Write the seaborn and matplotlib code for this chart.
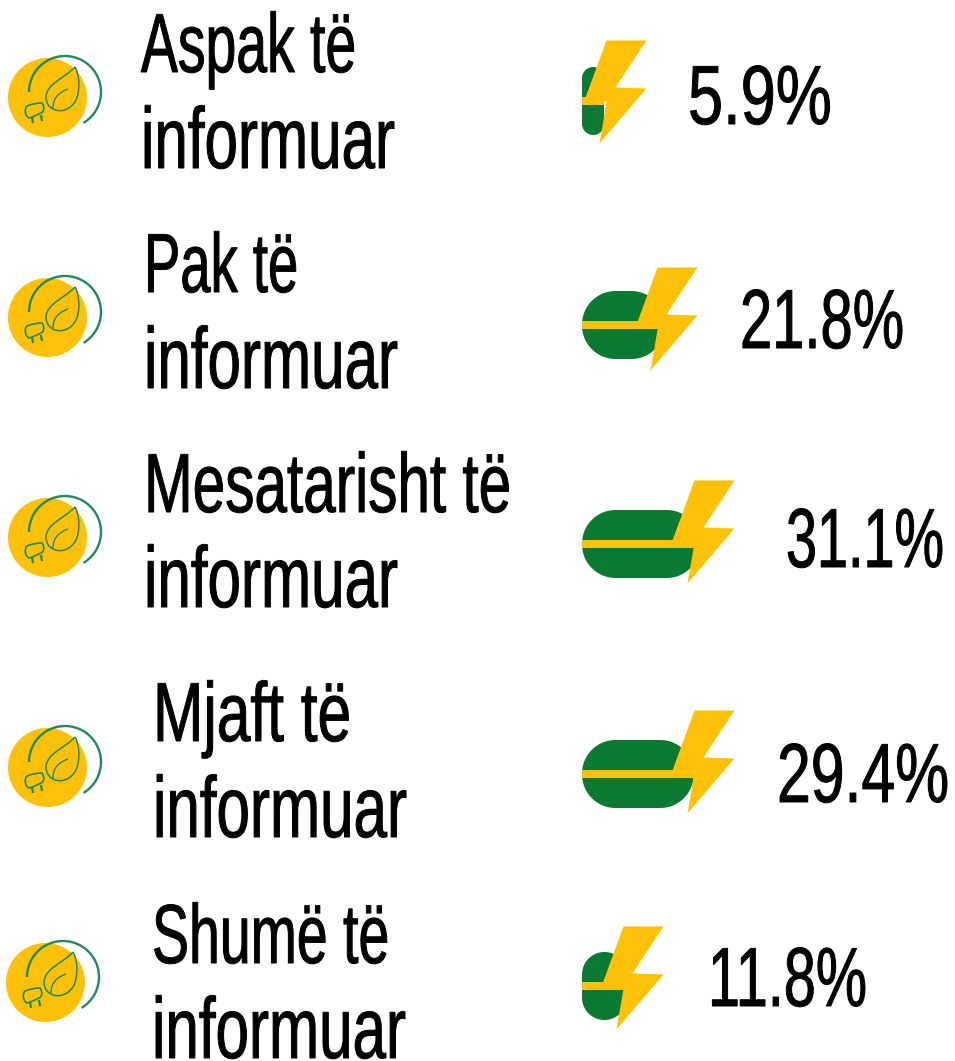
import numpy as np
import pandas as pd
import seaborn as sns
import matplotlib
matplotlib.use("Agg")
import matplotlib.pyplot as plt
from matplotlib.markers import MarkerStyle
from matplotlib.patches import Polygon, PathPatch, Arc
from matplotlib.path import Path
from matplotlib.patheffects import AbstractPathEffect
from matplotlib.transforms import Affine2D, IdentityTransform

# ---- data ----
label_first = ["Aspak të", "Pak të", "Mesatarisht të", "Mjaft të", "Shumë të"]
label_second = ["informuar"] * 5
values = [5.9, 21.8, 31.1, 29.4, 11.8]

# ---- layout (pixels in the 955x1061 canvas) ----
W, H = 955, 1061
bar_y = [101, 325, 544, 774, 986]
bolt_x = [623, 674, 711, 711, 640]
bolt_y = [91, 318, 531, 761, 977]
icon_x = [47, 47, 47, 47, 45]
icon_y = [97, 317, 537, 767, 982]
text_x = [141, 144, 144, 153, 152]
text_w1 = [215, 154, 367, 198, 237]
text_w2 = [254, 254, 254, 254, 254]
base1 = [72, 292, 512, 741, 963]
base2 = [168, 388, 607, 837, 1058]
val_x = [688, 740, 786, 777, 708]
val_w = [144, 164, 158, 172, 159]
val_base = [124, 348, 567, 802, 1006]
PX_PER_PCT = 3.8
BAR_H = 68
YELLOW = "#FFC107"
GREEN = "#0A7A33"
ICON_GREEN = "#1F8B5B"
CAP_RATIO = 0.716
STROKE_PT = 0.7

sns.set_theme(style="white")
plt.rcParams["font.family"] = ["Liberation Sans Narrow", "Liberation Sans", "DejaVu Sans"]


class TallFace(AbstractPathEffect):
    """Stretch glyphs vertically around the baseline and thicken them slightly."""
    def __init__(self, sy, stroke):
        super().__init__()
        self.sy = sy
        self.stroke = stroke

    def draw_path(self, renderer, gc, tpath, affine, rgbFace=None):
        g = renderer.new_gc()
        g.copy_properties(gc)
        g.set_linewidth(self.stroke)
        g.set_foreground("black")
        g.set_joinstyle("round")
        renderer.draw_path(g, tpath, Affine2D().scale(1, self.sy) + affine, rgbFace)
        g.restore()


fig = plt.figure(figsize=(W / 100, H / 100), dpi=100)
fig.patch.set_facecolor("white")

# ---- bars ----
ax = fig.add_axes([582 / W, 0, (W - 582) / W, 1])
df = pd.DataFrame({"value": values, "row": bar_y})
spacing = np.min(np.diff(sorted(bar_y)))
sns.barplot(data=df, x="value", y="row", orient="y", native_scale=True,
            color=GREEN, saturation=1, width=BAR_H / spacing, linewidth=0, ax=ax, zorder=2)
ax.set_xlim(0, (W - 582) / PX_PER_PCT)
ax.set_ylim(H, 0)
ax.axis("off")
ax.patch.set_alpha(0)
fig.canvas.draw()


def pill(x0, y0, x1, y1, r):
    t = np.linspace(0, np.pi / 2, 24)
    c, s = np.cos(t), np.sin(t)
    pts = np.vstack([
        np.c_[x1 - r + r * c, y1 - r + r * s],
        np.c_[x0 + r - r * s, y1 - r + r * c],
        np.c_[x0 + r - r * c, y0 + r - r * s],
        np.c_[x1 - r + r * s, y0 + r - r * c],
    ])
    return Polygon(pts, closed=True, transform=IdentityTransform())


for bar in ax.patches:
    (x0, y0), (x1, y1) = ax.transData.transform(bar.get_corners()[[0, 2]])
    x0, x1 = min(x0, x1), max(x0, x1)
    y0, y1 = min(y0, y1), max(y0, y1)
    bar.set_clip_path(pill(x0, y0, x1, y1, min(33.5, (x1 - x0) / 2)))
ax.hlines(bar_y, 0, values, colors=YELLOW, linewidth=8 * 0.72, zorder=3, capstyle="butt")

# ---- overlay in pixel coordinates ----
ov = fig.add_axes([0, 0, 1, 1], zorder=5)
ov.set_xlim(0, W)
ov.set_ylim(H, 0)
ov.axis("off")
ov.patch.set_alpha(0)

# bolts
bolt = Path([(-17, 51), (23, 51), (-8, 4), (23, 3), (-24, -52), (-16.8, -10), (-39.4, -10), (-17, 51)], closed=True)
sns.scatterplot(x=bolt_x, y=bolt_y, marker=MarkerStyle(bolt), s=(104 * 0.72) ** 2,
                color=YELLOW, linewidth=0, ax=ov, zorder=6, legend=False)

# icons
sns.scatterplot(x=icon_x, y=icon_y, s=(79 * 0.72) ** 2, color=YELLOW, linewidth=0,
                ax=ov, zorder=6, legend=False)
C = Path.CURVE4
leaf_outer = Path([(75, 67), (64, 79), (47, 83), (46, 97), (46, 103), (49, 107), (53, 109),
                   (60, 113), (71, 110), (76, 100), (80, 91), (80, 76), (75, 67)],
                  [Path.MOVETO] + [C] * 12)
leaf_vein = Path([(53, 108), (53, 97), (60, 92), (68, 89)], [Path.MOVETO, C, C, C])
plug = Path([(27, 106), (32, 104), (37, 103), (42, 103), (45, 107), (44, 112), (41, 113),
             (37, 115), (33, 117), (29, 118), (25, 116), (24, 109), (27, 106)],
            [Path.MOVETO] + [C] * 12)
prongs = Path([(32, 117), (33, 123), (41, 115), (42, 121)],
              [Path.MOVETO, Path.LINETO, Path.MOVETO, Path.LINETO])
for cx, cy in zip(icon_x, icon_y):
    tr = Affine2D().translate(cx - 47, cy - 97) + ov.transData
    ov.add_patch(Arc((65, 92), 72, 72, theta1=-180, theta2=59, color=ICON_GREEN, lw=1.7,
                     transform=tr, zorder=7))
    for p, lw in [(leaf_outer, 1.1), (leaf_vein, 1.0), (plug, 1.2), (prongs, 1.6)]:
        ov.add_patch(PathPatch(p, fc="none", ec=ICON_GREEN, lw=lw, transform=tr, zorder=7,
                               joinstyle="round"))

# text: size fitted to the reference width, height restored by a vertical stretch
renderer = fig.canvas.get_renderer()


def fit_text(x, base, s, width, cap_px):
    t = ov.text(x, base, s, fontsize=40, color="black", va="baseline", ha="left", zorder=8)
    w = t.get_window_extent(renderer).width
    fs = 40 * width / w
    t.set_fontsize(fs)
    t.set_path_effects([TallFace(cap_px / (CAP_RATIO * fs * 100 / 72), STROKE_PT)])
    return t


for i in range(5):
    fit_text(text_x[i], base1[i], label_first[i], text_w1[i], 60)
    fit_text(text_x[i], base2[i], label_second[i], text_w2[i], 62)
    fit_text(val_x[i], val_base[i], f"{values[i]}%", val_w[i], 60)

fig.savefig("out.png", dpi=100, facecolor="white")
